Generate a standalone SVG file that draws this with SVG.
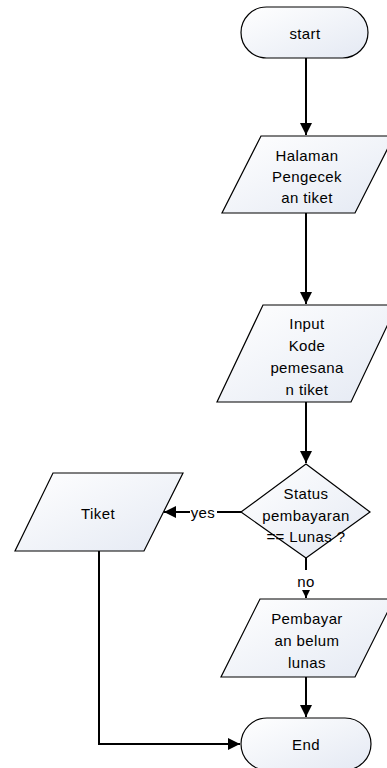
<svg xmlns="http://www.w3.org/2000/svg" width="387" height="768" viewBox="0 0 387 768">
<defs>
<linearGradient id="g" x1="0" y1="0" x2="1" y2="1">
<stop offset="0" stop-color="#ffffff"/>
<stop offset="1" stop-color="#e4e9f3"/>
</linearGradient>
<marker id="arr" viewBox="0 0 10 10" refX="10" refY="5" markerWidth="6" markerHeight="6" markerUnits="strokeWidth" orient="auto">
<path d="M0,0 L10,5 L0,10 z" fill="#000"/>
</marker>
<style>
.s{fill:url(#g);stroke:#000;stroke-width:1.2}
.t{font-family:"Liberation Sans",Arial,sans-serif;font-size:15px;letter-spacing:0.4px;fill:#000;text-anchor:middle;dominant-baseline:central}
.c{fill:none;stroke:#000;stroke-width:2}
</style>
</defs>
<g id="connectors">
<line class="c" x1="306" y1="58" x2="306" y2="135" marker-end="url(#arr)"/>
<line class="c" x1="306" y1="213" x2="306" y2="304" marker-end="url(#arr)"/>
<line class="c" x1="306" y1="402" x2="306" y2="463" marker-end="url(#arr)"/>
<line class="c" x1="241" y1="512" x2="164" y2="512" marker-end="url(#arr)"/>
<line class="c" x1="306" y1="558" x2="306" y2="598" marker-end="url(#arr)"/>
<line class="c" x1="306" y1="677" x2="306" y2="717" marker-end="url(#arr)"/>
<polyline class="c" points="99,551 99,744 240,744" marker-end="url(#arr)"/>
<rect x="190" y="503" width="27" height="18" fill="#fff"/>
<text class="t" x="203" y="512">yes</text>
<rect x="295" y="570" width="22" height="20" fill="#fff"/>
<text class="t" x="306" y="581">no</text>
</g>
<g id="start">
<rect class="s" x="241" y="7" width="127" height="51" rx="25.5"/>
<text class="t" x="305" y="33">start</text>
</g>
<g id="halaman">
<polygon class="s" points="261,136 394,136 355,213 222,213"/>
<text class="t" x="307" y="155">Halaman</text>
<text class="t" x="307" y="176">Pengecek</text>
<text class="t" x="307" y="197">an tiket</text>
</g>
<g id="input">
<polygon class="s" points="263,305 397,305 351,402 217,402"/>
<text class="t" x="307" y="323">Input</text>
<text class="t" x="307" y="345">Kode</text>
<text class="t" x="307" y="367">pemesana</text>
<text class="t" x="307" y="389">n tiket</text>
</g>
<g id="status">
<polygon class="s" points="306,464 370,512 306,558 241,512"/>
<text class="t" x="306" y="493">Status</text>
<text class="t" x="306" y="515">pembayaran</text>
<text class="t" x="306" y="536">== Lunas ?</text>
</g>
<g id="tiket">
<polygon class="s" points="53,473 183,473 144,551 15,551"/>
<text class="t" x="98" y="513">Tiket</text>
</g>
<g id="pembayaran">
<polygon class="s" points="260,599 394,599 355,677 221,677"/>
<text class="t" x="307" y="618">Pembayar</text>
<text class="t" x="307" y="640">an belum</text>
<text class="t" x="307" y="662">lunas</text>
</g>
<g id="end">
<rect class="s" x="241" y="718" width="130" height="52" rx="26"/>
<text class="t" x="306" y="744">End</text>
</g>
</svg>
